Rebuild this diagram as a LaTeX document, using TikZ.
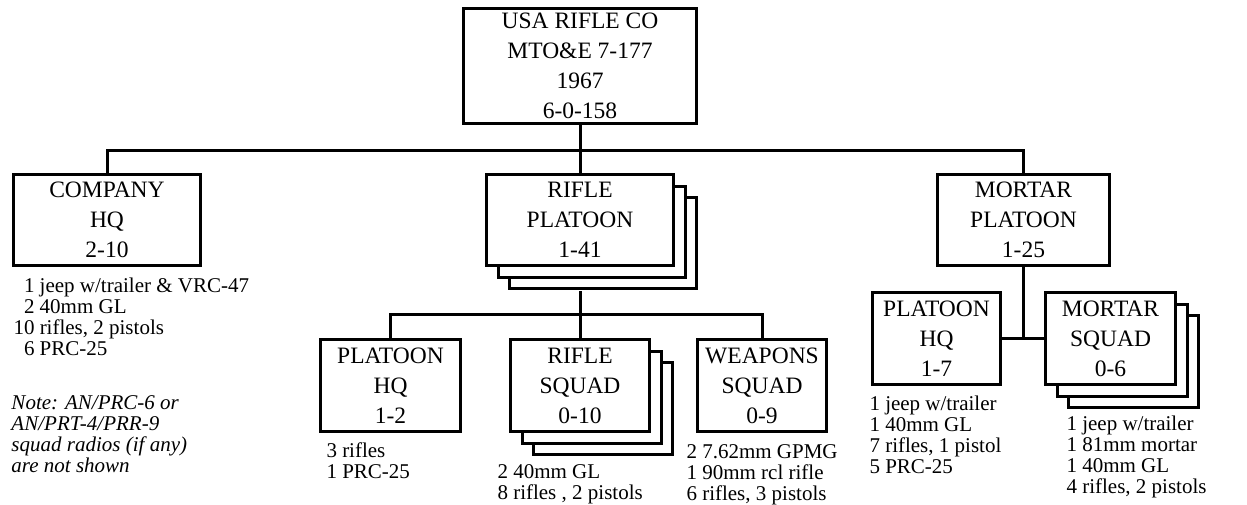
\documentclass[tikz,border=0pt]{standalone}
\usepackage{fontspec}
\setmainfont{Liberation Serif}
\usetikzlibrary{shadows}

\newcommand{\unitfont}{\fontsize{23.5}{30}\selectfont}
\newcommand{\eqfont}{\fontsize{21}{21}\selectfont}

\begin{document}
\begin{tikzpicture}[x=1pt, y=-1pt, line width=3pt,
    unit/.style={draw, fill=white, inner sep=0pt, align=center, font=\unitfont},
    stacked/.style={copy shadow={shadow xshift=23pt, shadow yshift=-23pt, draw=black, fill=white},
                    copy shadow={shadow xshift=11.5pt, shadow yshift=-11.5pt, draw=black, fill=white}},
    eqlist/.style={anchor=north west, inner sep=0pt, align=left, font=\eqfont}]

    \useasboundingbox (0,0) rectangle (1247,504);

    % COMPANY
    \node[unit, minimum width=233pt, minimum height=115pt] (rifleco) at (580,66) {USA RIFLE CO\\MTO\&E 7-177\\1967\\6-0-158};

    % Platoons
    \node[unit, minimum width=187pt, minimum height=91pt] (cohq) at (107,220) {COMPANY\\HQ\\2-10};
    \node[unit, stacked, minimum width=187pt, minimum height=91pt] (rplt) at (580,220) {RIFLE\\PLATOON\\1-41};
    \node[unit, minimum width=172pt, minimum height=91pt] (mplt) at (1023.5,220) {MORTAR\\PLATOON\\1-25};

    % Rifle platoon parts
    \node[unit, minimum width=140pt, minimum height=92pt] (rphq) at (390.5,385.5) {PLATOON\\HQ\\1-2};
    \node[unit, stacked, minimum width=139pt, minimum height=92pt] (rsqd) at (580,385.5) {RIFLE\\SQUAD\\0-10};
    \node[unit, minimum width=129pt, minimum height=92pt] (wsqd) at (762,385.5) {WEAPONS\\SQUAD\\0-9};

    % Mortar platoon parts
    \node[unit, minimum width=128pt, minimum height=92pt] (mphq) at (936.5,338.5) {PLATOON\\HQ\\1-7};
    \node[unit, stacked, minimum width=130pt, minimum height=92pt] (msqd) at (1110.5,338.5) {MORTAR\\SQUAD\\0-6};

    % Equipment lists
    \node[eqlist] (cohqeq) at (12,276) {\hphantom{1}1 jeep w/trailer \& VRC-47\\\hphantom{1}2 40mm GL\\10 rifles, 2 pistols\\\hphantom{1}6 PRC-25};
    \node[eqlist, font=\eqfont\itshape] (note) at (10,394) {Note: AN/PRC-6 or\\AN/PRT-4/PRR-9\\squad radios (if any)\\are not shown};
    \node[eqlist] (rphqeq) at (325,441) {3 rifles\\1 PRC-25};
    \node[eqlist] (rsqdeq) at (496,463) {2 40mm GL\\8 rifles , 2 pistols};
    \node[eqlist] (wsqdeq) at (685,443) {2 7.62mm GPMG\\1 90mm rcl rifle\\6 rifles, 3 pistols};
    \node[eqlist] (mphqeq) at (868,394) {1 jeep w/trailer\\1 40mm GL\\7 rifles, 1 pistol\\5 PRC-25};
    \node[eqlist] (msqdeq) at (1065,414) {1 jeep w/trailer\\1 81mm mortar\\1 40mm GL\\4 rifles, 2 pistols};

    % Lines
    \coordinate (cobar) at (580,150);
    \draw (rifleco.south) -- (cobar);
    \draw (cohq.north) |- (cobar) -| (mplt.north);
    \draw (cobar) -- (rplt.north);

    \coordinate (rpbot) at (580,291);
    \coordinate (rpbar) at (580,314);
    \draw (rpbot) -- (rpbar);
    \draw (rphq.north) |- (rpbar) -| (wsqd.north);
    \draw (rpbar) -- (rsqd.north);

    \coordinate (mpjoin) at (mplt.south |- msqd.west);
    \draw (mplt.south) -- (mpjoin);
    \draw (mphq.east) -- (msqd.west);
\end{tikzpicture}
\end{document}
